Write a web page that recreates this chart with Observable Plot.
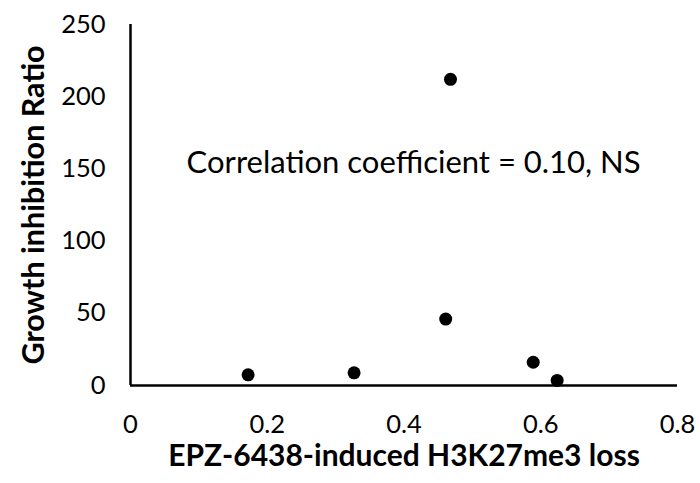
<!DOCTYPE html>
<html>
<head>
<meta charset="utf-8">
<script src="https://cdn.jsdelivr.net/npm/d3@7"></script>
<script src="https://cdn.jsdelivr.net/npm/@observablehq/plot@0.6"></script>
<style>
  html, body { margin: 0; padding: 0; background: #fff; }
  #chart { width: 700px; height: 483px; }
</style>
</head>
<body>
<div id="chart"></div>
<script>
// Data
const h3k27me3Loss = [0.172, 0.327, 0.461, 0.468, 0.589, 0.624];
const growthInhibitionRatio = [7.4, 8.8, 46.0, 212.0, 16.1, 3.5];

const xTicks = [0, 0.2, 0.4, 0.6, 0.8];
const yTicks = [0, 50, 100, 150, 200, 250];

const xTitle = "EPZ-6438-induced H3K27me3 loss";
const yTitle = "Growth inhibition Ratio";

const annotationText = ["Correlation coefficient = 0.10, NS"];
const annotationX = [0.414];
const annotationY = [153.7];

const points = h3k27me3Loss.map((x, i) => ({x, y: growthInhibitionRatio[i]}));
const annotations = annotationText.map((t, i) => ({t, x: annotationX[i], y: annotationY[i]}));

const FONT = "Lato, 'Open Sans', sans-serif";

const chart = Plot.plot({
  width: 700,
  height: 483,
  marginLeft: 130,
  marginRight: 23,
  marginTop: 24,
  marginBottom: 98,
  style: {fontFamily: FONT, background: "#fff", color: "#000", overflow: "visible"},
  x: {domain: [0, 0.8]},
  y: {domain: [0, 250]},
  marks: [
    Plot.axisX(xTicks, {tickSize: 0, tickPadding: 29, fontSize: 25.5, label: null, fill: "#000", tickFormat: d => String(d)}),
    Plot.axisY(yTicks, {tickSize: 0, tickPadding: 25, fontSize: 25.5, label: null, fill: "#000", tickFormat: d => String(d)}),
    Plot.ruleY([0], {x1: 0, x2: 0.8, stroke: "#000", strokeWidth: 2.5}),
    Plot.ruleX([0], {y1: 0, y2: 250, stroke: "#000", strokeWidth: 2.5}),
    Plot.dot(points, {x: "x", y: "y", r: 6.5, fill: "#000", stroke: null}),
    Plot.text(annotations, {x: "x", y: "y", text: "t", fontSize: 31, fill: "#000"}),
    Plot.text([xTitle], {frameAnchor: "bottom", textAnchor: "middle", lineAnchor: "middle", dy: 71, fontSize: 30, fontWeight: "bold", fill: "#000"}),
    Plot.text([yTitle], {frameAnchor: "left", textAnchor: "middle", lineAnchor: "middle", dx: -96, rotate: -90, fontSize: 30.5, fontWeight: "bold", fill: "#000"})
  ]
});
document.getElementById("chart").appendChild(chart);
</script>
</body>
</html>
